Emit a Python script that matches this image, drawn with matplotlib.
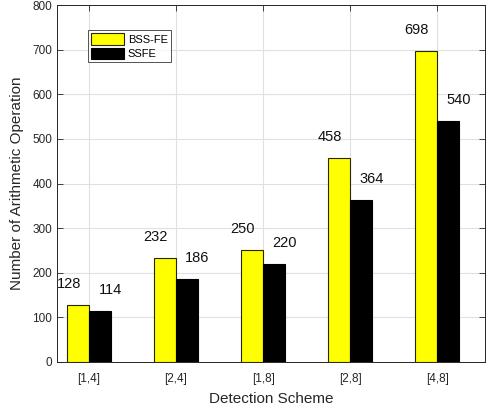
import matplotlib
matplotlib.use("Agg")
import matplotlib.pyplot as plt
import numpy as np

schemes = ["[1,4]", "[2,4]", "[1,8]", "[2,8]", "[4,8]"]
bss_fe = [128, 232, 250, 458, 698]
ssfe = [114, 186, 220, 364, 540]

plt.rcParams["font.family"] = ["Liberation Sans", "DejaVu Sans"]

fig = plt.figure(figsize=(4.88, 4.13), dpi=100)
ax = fig.add_axes([57 / 488, 1 - 362 / 413, (485 - 57) / 488, (362 - 5) / 413])

x = np.arange(1, len(schemes) + 1)
w = 0.25
ax.bar(x - w / 2, bss_fe, w, color="yellow", edgecolor="#262600", linewidth=0.8, label="BSS-FE", zorder=3)
ax.bar(x + w / 2, ssfe, w, color="black", edgecolor="black", linewidth=0.8, label="SSFE", zorder=3)

for xi, v in zip(x, bss_fe):
    ax.text(xi - w / 2 - 0.11, v + 47, str(v), ha="center", va="center", fontsize=10.5, color="#111111")
for xi, v in zip(x, ssfe):
    ax.text(xi + w / 2 + 0.12, v + 47, str(v), ha="center", va="center", fontsize=10.5, color="#111111")

ax.set_xlim(0.632, 5.55)
ax.set_ylim(0, 800)
ax.set_yticks(range(0, 801, 100))
ax.set_xticks(x)
ax.set_xticklabels(schemes)
ax.tick_params(direction="in", top=True, right=True, labelsize=8.5, colors="#262626", length=4, width=0.6)
ax.tick_params(axis="x", pad=8)
ax.grid(True, color="#e0e0e0", linewidth=0.8, zorder=0)
ax.set_axisbelow(True)
for s in ax.spines.values():
    s.set_color("#262626")
    s.set_linewidth(0.7)

ax.set_xlabel("Detection Scheme", fontsize=11, color="#262626", labelpad=5)
ax.set_ylabel("Number of Arithmetic Operation", fontsize=11, color="#262626", labelpad=6)

leg = ax.legend(loc="upper left", bbox_to_anchor=(0.072, 0.93), fontsize=8, frameon=True, fancybox=False,
                edgecolor="#262626", handlelength=3.0, handleheight=1.2, borderpad=0.3, labelspacing=0.25,
                handletextpad=0.3, borderaxespad=0)
leg.get_frame().set_linewidth(0.7)

fig.savefig("out.png", dpi=100)
